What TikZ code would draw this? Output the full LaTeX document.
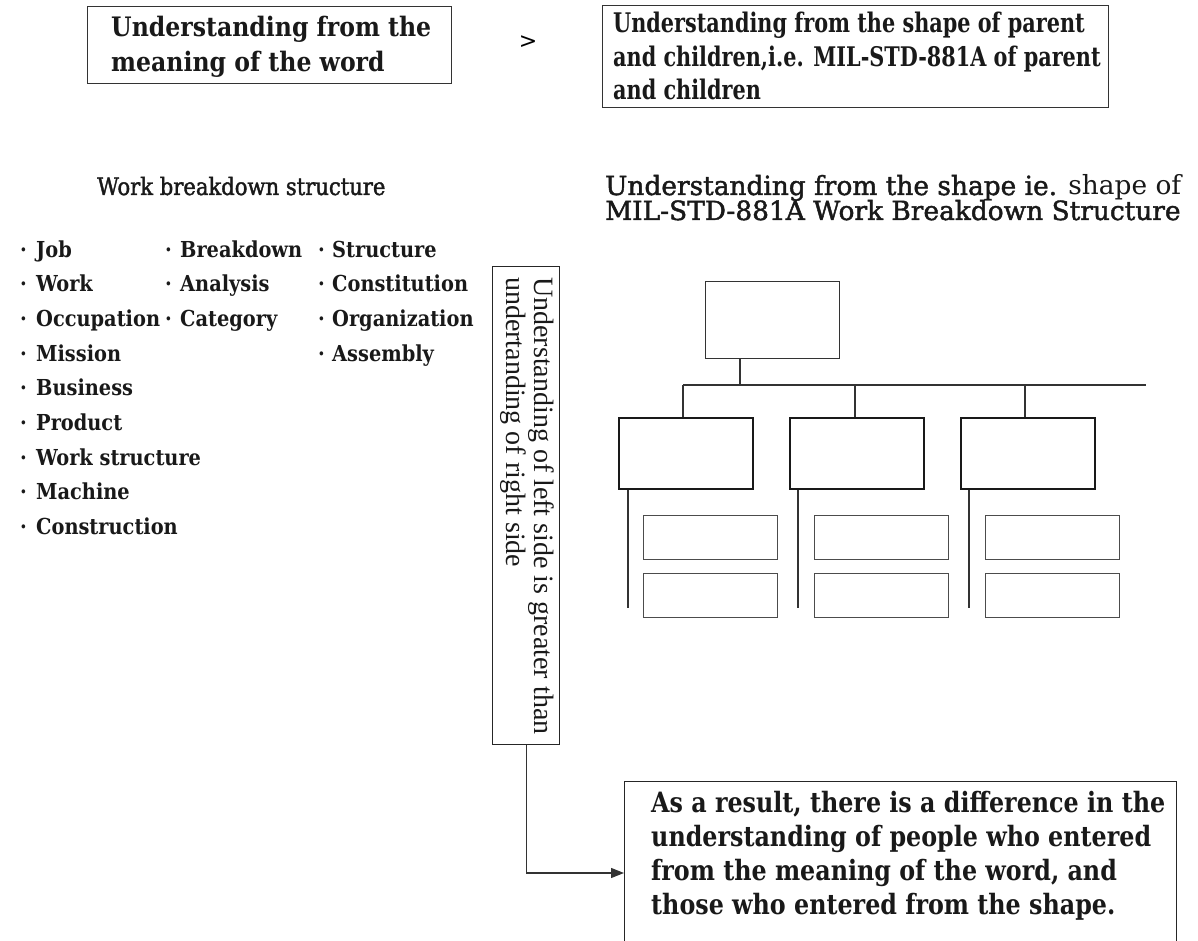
\documentclass[tikz,border=0pt]{standalone}
\usepackage{fontspec}
\setmainfont{DejaVu Serif}
\newfontfamily\wideF[FakeStretch=0.88]{DejaVu Serif}
\newfontfamily\medF[FakeStretch=0.88,FakeBold=1.6]{DejaVu Serif}
\newfontfamily\medR[FakeBold=1.6]{DejaVu Serif}
\newfontfamily\condF[FakeStretch=0.77]{DejaVu Serif}
\newfontfamily\condG[FakeStretch=0.85]{DejaVu Serif}
\newfontfamily\timesF{Liberation Serif}
\newfontfamily\sansF{DejaVu Sans}
\usetikzlibrary{arrows.meta,calc}
\tikzset{
  frame/.style={draw=black!80, line width=1.3pt, inner sep=0, anchor=north west},
  midbox/.style={draw=black!90, line width=1.8pt, inner sep=0, anchor=north west, minimum width=134pt, minimum height=71pt},
  smallbox/.style={draw=black!70, line width=1.4pt, inner sep=0, anchor=north west, minimum width=134pt, minimum height=44pt},
  link/.style={draw=black!80, line width=1.2pt},
  txt/.style={anchor=base west, inner sep=0, text=black!90},
  titleA/.style={txt, font=\wideF\bfseries\fontsize{26.8}{30}\selectfont},
  titleB/.style={txt, font=\condF\bfseries\fontsize{27}{30}\selectfont},
  titleC/.style={txt, font=\condG\bfseries\fontsize{28}{30}\selectfont},
  head/.style={txt, font=\medF\fontsize{24}{28}\selectfont},
  headR/.style={txt, font=\medR\fontsize{26.4}{28}\selectfont},
  item/.style={txt, font=\wideF\bfseries\fontsize{22}{26}\selectfont},
  vtxt/.style={rotate=-90, anchor=base west, inner sep=0, font=\timesF\fontsize{28}{28}\selectfont, text=black!90},
}
\newcommand{\bul}[2]{\makebox[#1pt][l]{·}#2}
\begin{document}
\begin{tikzpicture}[x=1pt,y=-1pt]
\useasboundingbox (0,0) rectangle (1198,941);
% top boxes
\node[frame, minimum width=364pt, minimum height=77pt] (b1) at (87,6) {};
\node[titleA] (b1l1) at (111,37) {Understanding from the};
\node[titleA] (b1l2) at (111,72) {meaning of the word};
\node[anchor=center, inner sep=0, font=\sansF\fontsize{22}{24}\selectfont] (gt) at (528,42) {\textgreater};
\node[frame, minimum width=506pt, minimum height=102pt] (b2) at (602,5) {};
\node[titleB] (b2l1) at (613,33) {Understanding from the shape of parent};
\node[titleB] (b2l2) at (613,67) {and children,i.e. MIL-STD-881A of parent};
\node[titleB] (b2l3) at (613,100) {and children};
% headings
\node[head] (h1) at (97,195) {Work breakdown structure};
\node[headR] (h2a) at (605,195) {Understanding from the shape ie. {\normalfont shape of}};
\node[headR] (h2b) at (605,220) {MIL-STD-881A Work Breakdown Structure};
% list column 1
\node[item] (c1a) at (20,257) {\bul{16}{Job}};
\node[item] (c1b) at (20,291.7) {\bul{16}{Work}};
\node[item] (c1c) at (20,326.4) {\bul{16}{Occupation}};
\node[item] (c1d) at (20,361.1) {\bul{16}{Mission}};
\node[item] (c1e) at (20,395.8) {\bul{16}{Business}};
\node[item] (c1f) at (20,430.5) {\bul{16}{Product}};
\node[item] (c1g) at (20,465.2) {\bul{16}{Work structure}};
\node[item] (c1h) at (20,499.9) {\bul{16}{Machine}};
\node[item] (c1i) at (20,534.6) {\bul{16}{Construction}};
% list column 2
\node[item] (c2a) at (165,257) {\bul{15}{Breakdown}};
\node[item] (c2b) at (165,291.7) {\bul{15}{Analysis}};
\node[item] (c2c) at (165,326.4) {\bul{15}{Category}};
% list column 3
\node[item] (c3a) at (318,257) {\bul{14}{Structure}};
\node[item] (c3b) at (318,291.7) {\bul{14}{Constitution}};
\node[item] (c3c) at (318,326.4) {\bul{14}{Organization}};
\node[item] (c3d) at (318,361.1) {\bul{14}{Assembly}};
% vertical box
\node[frame, draw=black!85, line width=1.2pt, minimum width=67pt, minimum height=478pt] (vb) at (492,266) {};
\node[vtxt] (vt1) at (534,277) {Understanding of left side is greater than};
\node[vtxt] (vt2) at (506,277) {undertanding of right side};
% tree
\node[frame, minimum width=134pt, minimum height=77pt] (t0) at (705,281) {};
\node[midbox] (m1) at (618,417) {};
\node[midbox] (m2) at (789,417) {};
\node[midbox] (m3) at (960,417) {};
\node[smallbox] (s1a) at (643,515) {};
\node[smallbox] (s1b) at (643,573) {};
\node[smallbox] (s2a) at (814,515) {};
\node[smallbox] (s2b) at (814,573) {};
\node[smallbox] (s3a) at (985,515) {};
\node[smallbox] (s3b) at (985,573) {};
\coordinate (hl) at (683,385);
\coordinate (hr) at (1146,385);
\coordinate (t0c) at ($(t0.south west)+(35,0)$);
\coordinate (m1c) at ($(m1.north west)+(65,0)$);
\coordinate (m2c) at ($(m2.north west)+(66,0)$);
\coordinate (m3c) at ($(m3.north west)+(65,0)$);
\coordinate (m1d) at ($(m1.south west)+(10,0)$);
\coordinate (m2d) at ($(m2.south west)+(9,0)$);
\coordinate (m3d) at ($(m3.south west)+(9,0)$);
\draw[link] (hl) -- (hr);
\draw[link] (t0c) -- (t0c |- hl);
\draw[link] (m1c |- hl) -- (m1c);
\draw[link] (m2c |- hl) -- (m2c);
\draw[link] (m3c |- hl) -- (m3c);
\draw[link] (m1d) -- ++(0,118);
\draw[link] (m2d) -- ++(0,118);
\draw[link] (m3d) -- ++(0,118);
% bottom box (open at the lower edge)
\begin{scope}
\clip (0,0) rectangle (1198,941);
\node[frame, draw=black!85, line width=1.2pt, minimum width=552pt, minimum height=170pt] (res) at (624,781) {};
\end{scope}
\node[titleC] (r1) at (651,812) {As a result, there is a difference in the};
\node[titleC] (r2) at (651,846) {understanding of people who entered};
\node[titleC] (r3) at (651,880) {from the meaning of the word, and};
\node[titleC] (r4) at (651,914) {those who entered from the shape.};
% connector
\coordinate (ay) at (0,873);
\draw[link, -{Triangle[length=13pt,width=10pt]}] (vb.south) |- (res.west |- ay);
\end{tikzpicture}
\end{document}
